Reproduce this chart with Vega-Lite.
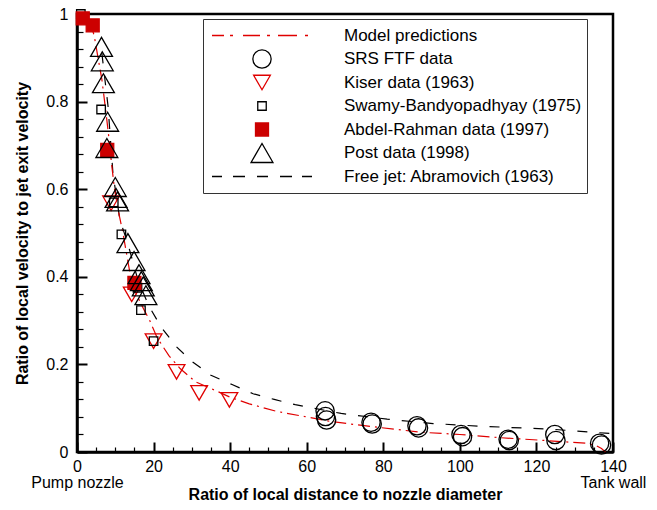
{
  "$schema": "https://vega.github.io/schema/vega-lite/v6.json",
  "width": 536,
  "height": 438,
  "autosize": {"type": "none"},
  "padding": {"left": 77, "top": 14, "right": 44, "bottom": 58},
  "background": "white",
  "config": {
    "font": "Liberation Sans",
    "view": {"stroke": "black", "strokeWidth": 2.5}
  },
  "datasets": {
    "model": [
      {"x": 3.5, "y": 0.98}, {"x": 4.5, "y": 0.95}, {"x": 5.5, "y": 0.9}, {"x": 6.5, "y": 0.85},
      {"x": 7.5, "y": 0.78}, {"x": 8.3, "y": 0.72}, {"x": 9, "y": 0.66}, {"x": 9.8, "y": 0.6},
      {"x": 10.8, "y": 0.55}, {"x": 12, "y": 0.5}, {"x": 13, "y": 0.45}, {"x": 14, "y": 0.4},
      {"x": 15.5, "y": 0.36}, {"x": 17.5, "y": 0.325}, {"x": 19, "y": 0.3}, {"x": 21, "y": 0.26},
      {"x": 24, "y": 0.22}, {"x": 27, "y": 0.19}, {"x": 31, "y": 0.16}, {"x": 35, "y": 0.145},
      {"x": 40, "y": 0.125}, {"x": 45, "y": 0.11}, {"x": 52, "y": 0.093}, {"x": 60, "y": 0.08},
      {"x": 66, "y": 0.07}, {"x": 75, "y": 0.06}, {"x": 90, "y": 0.045}, {"x": 100, "y": 0.04},
      {"x": 110, "y": 0.033}, {"x": 121, "y": 0.027}, {"x": 133, "y": 0.02}, {"x": 135.5, "y": 0.015},
      {"x": 137, "y": 0.008}, {"x": 138, "y": 0}
    ],
    "freejet": [
      {"x": 6.5, "y": 0.91}, {"x": 7.3, "y": 0.85}, {"x": 8.1, "y": 0.79}, {"x": 9.4, "y": 0.635},
      {"x": 11.2, "y": 0.53}, {"x": 13.3, "y": 0.475}, {"x": 16, "y": 0.39}, {"x": 18.8, "y": 0.333},
      {"x": 22, "y": 0.285}, {"x": 26, "y": 0.24}, {"x": 30, "y": 0.207}, {"x": 35, "y": 0.175},
      {"x": 40.5, "y": 0.154}, {"x": 46, "y": 0.133}, {"x": 51.5, "y": 0.12}, {"x": 57, "y": 0.108},
      {"x": 69, "y": 0.088}, {"x": 81, "y": 0.075}, {"x": 93, "y": 0.065}, {"x": 105, "y": 0.059},
      {"x": 124, "y": 0.052}, {"x": 138, "y": 0.043}, {"x": 140, "y": 0.042}
    ],
    "points": [
      {"series": "SRS FTF data", "x": 64.8, "y": 0.094}, {"series": "SRS FTF data", "x": 64.9, "y": 0.081},
      {"series": "SRS FTF data", "x": 65.2, "y": 0.073}, {"series": "SRS FTF data", "x": 76.8, "y": 0.068},
      {"series": "SRS FTF data", "x": 77.1, "y": 0.064}, {"series": "SRS FTF data", "x": 88.8, "y": 0.06},
      {"series": "SRS FTF data", "x": 89.2, "y": 0.055}, {"series": "SRS FTF data", "x": 100.3, "y": 0.04},
      {"series": "SRS FTF data", "x": 100.7, "y": 0.035}, {"series": "SRS FTF data", "x": 112.6, "y": 0.029},
      {"series": "SRS FTF data", "x": 112.9, "y": 0.026}, {"series": "SRS FTF data", "x": 124.8, "y": 0.04},
      {"series": "SRS FTF data", "x": 125.1, "y": 0.026}, {"series": "SRS FTF data", "x": 136.5, "y": 0.02},
      {"series": "SRS FTF data", "x": 137, "y": 0.016},
      {"series": "Kiser data (1963)", "x": 8.9, "y": 0.568}, {"series": "Kiser data (1963)", "x": 14.3, "y": 0.36},
      {"series": "Kiser data (1963)", "x": 20, "y": 0.253}, {"series": "Kiser data (1963)", "x": 26, "y": 0.183},
      {"series": "Kiser data (1963)", "x": 31.9, "y": 0.135}, {"series": "Kiser data (1963)", "x": 39.8, "y": 0.119},
      {"series": "Swamy-Bandyopadhyay (1975)", "x": 1, "y": 1.0}, {"series": "Swamy-Bandyopadhyay (1975)", "x": 6.3, "y": 0.782},
      {"series": "Swamy-Bandyopadhyay (1975)", "x": 9.6, "y": 0.57}, {"series": "Swamy-Bandyopadhyay (1975)", "x": 11.6, "y": 0.497},
      {"series": "Swamy-Bandyopadhyay (1975)", "x": 15.8, "y": 0.375}, {"series": "Swamy-Bandyopadhyay (1975)", "x": 16.7, "y": 0.324},
      {"series": "Swamy-Bandyopadhyay (1975)", "x": 20, "y": 0.253},
      {"series": "Abdel-Rahman data (1997)", "x": 1.5, "y": 0.99}, {"series": "Abdel-Rahman data (1997)", "x": 4.1, "y": 0.974},
      {"series": "Abdel-Rahman data (1997)", "x": 7.9, "y": 0.69}, {"series": "Abdel-Rahman data (1997)", "x": 15, "y": 0.386},
      {"series": "Post data (1998)", "x": 6.4, "y": 0.925}, {"series": "Post data (1998)", "x": 6.6, "y": 0.892},
      {"series": "Post data (1998)", "x": 6.9, "y": 0.842}, {"series": "Post data (1998)", "x": 8.0, "y": 0.754},
      {"series": "Post data (1998)", "x": 7.8, "y": 0.694}, {"series": "Post data (1998)", "x": 10, "y": 0.605},
      {"series": "Post data (1998)", "x": 10.2, "y": 0.58}, {"series": "Post data (1998)", "x": 10.6, "y": 0.572},
      {"series": "Post data (1998)", "x": 13.3, "y": 0.477}, {"series": "Post data (1998)", "x": 14.9, "y": 0.436},
      {"series": "Post data (1998)", "x": 16.2, "y": 0.406}, {"series": "Post data (1998)", "x": 16.8, "y": 0.39},
      {"series": "Post data (1998)", "x": 17.3, "y": 0.378}, {"series": "Post data (1998)", "x": 18, "y": 0.358}
    ]
  },
  "encoding": {
    "x": {
      "field": "x", "type": "quantitative",
      "scale": {"domain": [0, 140], "nice": false, "zero": false},
      "title": "Ratio of local distance to nozzle diameter",
      "axis": {
        "values": [0, 5, 10, 15, 20, 25, 30, 35, 40, 45, 50, 55, 60, 65, 70, 75, 80, 85, 90, 95, 100, 105, 110, 115, 120, 125, 130, 135, 140],
        "labelExpr": "datum.value == 0 ? ['0', 'Pump nozzle'] : (datum.value == 140 ? ['140', 'Tank wall'] : (datum.value % 20 == 0 ? format(datum.value, 'd') : ''))",
        "ticks": true,
        "tickSize": -10,
        "tickDash": {"condition": {"test": "datum.value % 20 == 0", "value": [10, 0]}, "value": [5, 20]},
        "tickWidth": {"condition": {"test": "datum.value % 20 == 0", "value": 2}, "value": 1.2},
        "tickColor": "black",
        "domainColor": "black", "domainWidth": 2.5,
        "grid": false,
        "labelFontSize": 16, "labelColor": "black", "labelPadding": 16,
        "labelBaseline": "top", "labelLineHeight": 16,
        "labelFlush": false, "labelOverlap": false, "labelBound": false,
        "titleFontSize": 16, "titleFontWeight": "bold", "titleColor": "black",
        "titleX": 268, "titleY": 47, "titleBaseline": "alphabetic", "titleAlign": "center"
      }
    },
    "y": {
      "field": "y", "type": "quantitative",
      "scale": {"domain": [0, 1], "nice": false, "zero": false},
      "title": "Ratio of local velocity to jet exit velocity",
      "axis": {
        "values": [0, 0.04, 0.08, 0.12, 0.16, 0.2, 0.24, 0.28, 0.32, 0.36, 0.4, 0.44, 0.48, 0.52, 0.56, 0.6, 0.64, 0.68, 0.72, 0.76, 0.8, 0.84, 0.88, 0.92, 0.96, 1],
        "labelExpr": "abs(datum.value * 5 - round(datum.value * 5)) < 0.001 ? format(datum.value, '.1~f') : ''",
        "ticks": true,
        "tickSize": -10,
        "tickDash": {"condition": {"test": "abs(datum.value * 5 - round(datum.value * 5)) < 0.001", "value": [10, 0]}, "value": [6, 20]},
        "tickWidth": {"condition": {"test": "abs(datum.value * 5 - round(datum.value * 5)) < 0.001", "value": 2}, "value": 1.2},
        "tickColor": "black",
        "domainColor": "black", "domainWidth": 2.5,
        "grid": false,
        "labelFontSize": 16, "labelColor": "black", "labelPadding": 19,
        "labelFlush": false, "labelOverlap": false, "labelBound": false,
        "titleFontSize": 16, "titleFontWeight": "bold", "titleColor": "black",
        "titleX": -55, "titleY": 219, "titleAngle": 270, "titleBaseline": "middle", "titleAlign": "center"
      }
    }
  },
  "layer": [
    {
      "data": {"name": "freejet"},
      "mark": {"type": "line", "color": "black", "strokeWidth": 1.2, "strokeDash": [10, 12]},
      "encoding": {}
    },
    {
      "data": {"name": "model"},
      "mark": {"type": "line", "color": "#e00000", "strokeWidth": 1.2, "strokeDash": [12, 5, 2, 5]},
      "encoding": {}
    },
    {
      "data": {"name": "points"},
      "mark": {"type": "point", "opacity": 1, "strokeWidth": 1.3, "clip": false},
      "encoding": {
        "fill": {
          "field": "series", "type": "nominal",
          "scale": {
            "type": "ordinal",
            "domain": ["Model predictions", "SRS FTF data", "Kiser data (1963)", "Swamy-Bandyopadhyay (1975)", "Abdel-Rahman data (1997)", "Post data (1998)", "Free jet: Abramovich (1963)"],
            "range": ["transparent", "transparent", "transparent", "transparent", "#cc0000", "transparent", "transparent"]
          },
          "legend": {
            "title": null, "orient": "none", "legendX": 126, "legendY": 5,
            "padding": 5, "clipHeight": 23, "rowPadding": 0.5,
            "symbolOffset": 3, "labelOffset": 31, "symbolStrokeWidth": 1.3, "symbolOpacity": 1,
            "labelFontSize": 17, "labelColor": "black", "labelLimit": 400,
            "strokeColor": "#333333", "fillColor": "white"
          }
        },
        "stroke": {
          "field": "series", "type": "nominal",
          "scale": {
            "type": "ordinal",
            "domain": ["Model predictions", "SRS FTF data", "Kiser data (1963)", "Swamy-Bandyopadhyay (1975)", "Abdel-Rahman data (1997)", "Post data (1998)", "Free jet: Abramovich (1963)"],
            "range": ["#e00000", "#000000", "#e00000", "#000000", "#cc0000", "#000000", "#000000"]
          },
          "legend": {
            "title": null, "orient": "none", "legendX": 126, "legendY": 5,
            "padding": 5, "clipHeight": 23, "rowPadding": 0.5,
            "symbolOffset": 3, "labelOffset": 31, "symbolStrokeWidth": 1.3, "symbolOpacity": 1,
            "labelFontSize": 17, "labelColor": "black", "labelLimit": 400,
            "strokeColor": "#333333", "fillColor": "white"
          }
        },
        "shape": {
          "field": "series", "type": "nominal",
          "scale": {
            "type": "ordinal",
            "domain": ["Model predictions", "SRS FTF data", "Kiser data (1963)", "Swamy-Bandyopadhyay (1975)", "Abdel-Rahman data (1997)", "Post data (1998)", "Free jet: Abramovich (1963)"],
            "range": ["M-1,0H-0.76M-0.64,0H-0.58M-0.38,0H-0.04M0.1,0H0.16M0.32,0H0.7M0.86,0H0.92", "circle", "triangle-down", "square", "square", "triangle-up", "M-1,0H-0.8M-0.58,0H-0.34M-0.1,0H0.12M0.36,0H0.6M0.8,0H1"]
          },
          "legend": {
            "title": null, "orient": "none", "legendX": 126, "legendY": 5,
            "padding": 5, "clipHeight": 23, "rowPadding": 0.5,
            "symbolOffset": 3, "labelOffset": 31, "symbolStrokeWidth": 1.3, "symbolOpacity": 1,
            "labelFontSize": 17, "labelColor": "black", "labelLimit": 400,
            "strokeColor": "#333333", "fillColor": "white"
          }
        },
        "size": {
          "field": "series", "type": "nominal",
          "scale": {
            "type": "ordinal",
            "domain": ["Model predictions", "SRS FTF data", "Kiser data (1963)", "Swamy-Bandyopadhyay (1975)", "Abdel-Rahman data (1997)", "Post data (1998)", "Free jet: Abramovich (1963)"],
            "range": [10000, 335, 280, 72, 169, 480, 10000]
          },
          "legend": {
            "title": null, "orient": "none", "legendX": 126, "legendY": 5,
            "padding": 5, "clipHeight": 23, "rowPadding": 0.5,
            "symbolOffset": 3, "labelOffset": 31, "symbolStrokeWidth": 1.3, "symbolOpacity": 1,
            "labelFontSize": 17, "labelColor": "black", "labelLimit": 400,
            "strokeColor": "#333333", "fillColor": "white"
          }
        }
      }
    }
  ]
}
